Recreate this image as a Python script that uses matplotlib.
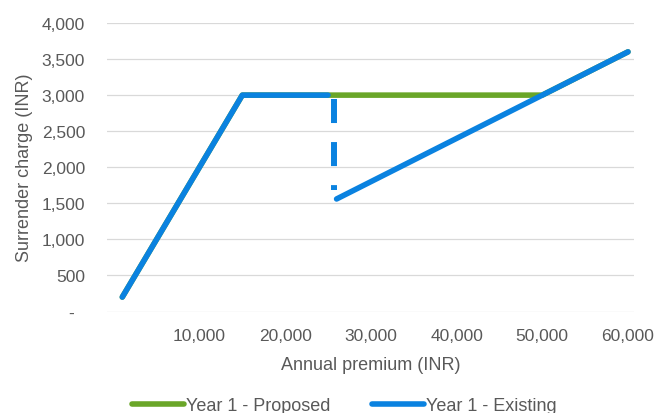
import matplotlib
matplotlib.use("Agg")
import matplotlib.pyplot as plt
from matplotlib.ticker import FuncFormatter, MultipleLocator
from matplotlib.transforms import ScaledTranslation

plt.rcParams['font.family'] = ['Liberation Sans', 'DejaVu Sans']
plt.rcParams['lines.scale_dashes'] = False

# Year 1 - Proposed
proposed_premium = [1000, 15000, 25000, 50000, 60000]
proposed_charge = [200, 3000, 3000, 3000, 3600]

# Year 1 - Existing (two pieces with a drop at 25,000)
existing_premium_low = [1000, 15000, 25000]
existing_charge_low = [200, 3000, 3000]
existing_premium_high = [26000, 60000]
existing_charge_high = [1560, 3600]

# dashed drop marker
drop_premium = [25750, 25750]
drop_charge = [2950, 1690]

green = '#6AA628'
blue = '#0A82E0'
text_col = '#595959'
grid_col = '#D9D9D9'

fig = plt.figure(figsize=(6.6, 4.14), dpi=100)
ax = fig.add_axes([107.3 / 660, 1 - 312.5 / 414, (634 - 107.3) / 660, (312.5 - 24) / 414])

lw = 4.0
ax.plot(proposed_premium, proposed_charge, color=green, lw=lw,
        solid_capstyle='round', solid_joinstyle='round', label='Year 1 - Proposed', zorder=3)
ax.plot(existing_premium_low, existing_charge_low, color=blue, lw=lw,
        solid_capstyle='round', solid_joinstyle='round', label='Year 1 - Existing', zorder=4)
ax.plot(existing_premium_high, existing_charge_high, color=blue, lw=lw,
        solid_capstyle='round', zorder=4)
ax.plot(drop_premium, drop_charge, color=blue, lw=4.3,
        dashes=(17.3, 13.7), dash_capstyle='butt', zorder=4)

ax.set_xlim(-750, 60700)
ax.set_ylim(0, 4000)
ax.xaxis.set_major_locator(MultipleLocator(10000))
ax.yaxis.set_major_locator(MultipleLocator(500))


def fmt_x(v, pos):
    return '' if v <= 0 else f'{v:,.0f}'


def fmt_y(v, pos):
    return '-' if v == 0 else f'{v:,.0f}'


ax.xaxis.set_major_formatter(FuncFormatter(fmt_x))
ax.yaxis.set_major_formatter(FuncFormatter(fmt_y))

ax.grid(axis='y', color=grid_col, lw=0.9)
ax.set_axisbelow(True)
for s in ax.spines.values():
    s.set_visible(False)

ax.tick_params(axis='both', length=0, labelsize=12.5, labelcolor=text_col)
ax.tick_params(axis='x', pad=12)
ax.tick_params(axis='y', pad=16)

ax.set_xlabel('Annual premium (INR)', fontsize=13, color=text_col, labelpad=9)
ax.set_ylabel('Surrender charge (INR)', fontsize=13, color=text_col, labelpad=6)

# accounting-style dash for zero sits a little left of the other labels
fig.canvas.draw()
for lab in ax.get_yticklabels():
    if lab.get_text() == '-':
        lab.set_transform(lab.get_transform() + ScaledTranslation(-0.11, 0, fig.dpi_scale_trans))

fig.legend(loc='center', bbox_to_anchor=(344 / 660, 1 - 407 / 414), ncol=2, frameon=False,
           fontsize=13, labelcolor=text_col, handlelength=2.9, handletextpad=0.1,
           columnspacing=2.3)

fig.savefig('out.png', dpi=100)
